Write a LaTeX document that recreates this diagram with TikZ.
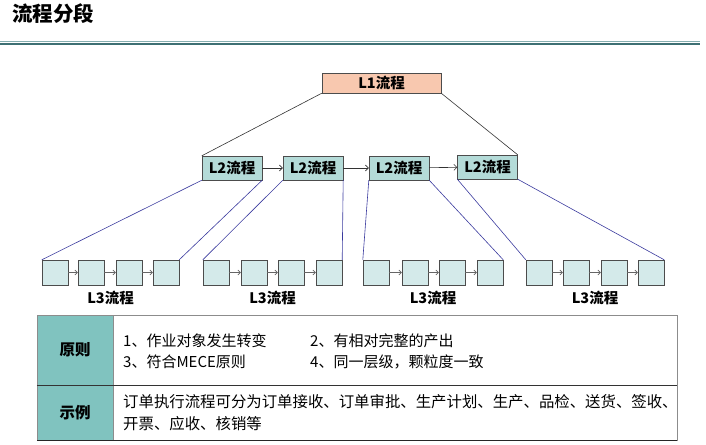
\documentclass[tikz,border=0pt]{standalone}
\usepackage{fontspec}
\setmainfont{Noto Sans CJK SC}
\usetikzlibrary{arrows.meta}
\definecolor{salmon}{HTML}{F8C8AF}
\definecolor{ltwo}{HTML}{B4DBD8}
\definecolor{lthree}{HTML}{D4EAEA}
\definecolor{tealhead}{HTML}{80C3BF}
\definecolor{tline}{HTML}{3E7074}
\definecolor{tlinelt}{HTML}{86AEB0}
\definecolor{bline}{HTML}{3A3A9E}
\tikzset{
  lonebox/.style={draw=black!70, fill=salmon, minimum width=119pt, minimum height=20pt, inner sep=0pt, font=\fontsize{14.5}{16}\selectfont\bfseries},
  ltwobox/.style={draw=black!70, fill=ltwo, minimum width=60pt, minimum height=24pt, inner sep=0pt, font=\fontsize{14.5}{16}\selectfont\bfseries},
  lthreebox/.style={draw=black!70, fill=lthree, minimum width=26pt, minimum height=25pt, inner sep=0pt},
  lthreelabel/.style={inner sep=0pt, font=\fontsize{14.5}{16}\selectfont\bfseries},
  flowarrow/.style={-{Straight Barb[length=3pt,width=6pt]}, black!80, line width=0.6pt},
  smallarrow/.style={-{Straight Barb[length=2.5pt,width=5pt]}, black!60, line width=0.6pt},
  bluelink/.style={bline, line width=0.6pt},
  blacklink/.style={black!80, line width=0.6pt},
  headcell/.style={draw=black!45, fill=tealhead, inner sep=0pt, font=\fontsize{15.5}{17}\selectfont\bfseries},
  bodycell/.style={draw=black!45, fill=white, inner sep=0pt},
  bodytext/.style={anchor=west, inner sep=0pt, font=\fontsize{15}{17}\selectfont},
}
\begin{document}
\begin{tikzpicture}[x=1pt,y=-1pt]
\useasboundingbox (0,0) rectangle (706,444);
% title
\node[anchor=west, inner sep=0pt, font=\fontsize{20.5}{22}\selectfont\bfseries] (title) at (12,14) {流程分段};
\draw[tlinelt, line width=1pt] (0,41.5) -- (700,41.5);
\draw[tline, line width=2.5pt] (0,44) -- (700,44);
% L1
\node[lonebox] (l1) at (381.5,83) {L1流程};
% L2
\node[ltwobox] (a) at (232,168) {L2流程};
\node[ltwobox] (b) at (313,168) {L2流程};
\node[ltwobox] (c) at (399,168) {L2流程};
\node[ltwobox] (d) at (487.5,167) {L2流程};
\draw[flowarrow] (a) -- (b);
\draw[flowarrow] (b) -- (c);
\draw[flowarrow] (c) -- (d);
\draw[blacklink] (l1.south west) -- (a.north west);
\draw[blacklink] (l1.south east) -- (d.north east);
% L3
\foreach \g/\xa/\xb/\xc/\xd in {1/55/91/129/166, 2/216/254/291/329, 3/376/415/452/490, 4/539/576/614/651}{
  \node[lthreebox] (g\g1) at (\xa,272.5) {};
  \node[lthreebox] (g\g2) at (\xb,272.5) {};
  \node[lthreebox] (g\g3) at (\xc,272.5) {};
  \node[lthreebox] (g\g4) at (\xd,272.5) {};
  \draw[smallarrow] (g\g1) -- (g\g2);
  \draw[smallarrow] (g\g2) -- (g\g3);
  \draw[smallarrow] (g\g3) -- (g\g4);
}
\node[lthreelabel] (t1) at (110.5,298) {L3流程};
\node[lthreelabel] (t2) at (272.5,298) {L3流程};
\node[lthreelabel] (t3) at (433,298) {L3流程};
\node[lthreelabel] (t4) at (595,298) {L3流程};
\draw[bluelink] (a.south west) -- (g11.north west);
\draw[bluelink] (a.south east) -- (g14.north east);
\draw[bluelink] (b.south west) -- (g21.north west);
\draw[bluelink] (b.south east) -- (g24.north east);
\draw[bluelink] (c.south west) -- (g31.north west);
\draw[bluelink] (c.south east) -- (g34.north east);
\draw[bluelink] (d.south west) -- (g41.north west);
\draw[bluelink] (d.south east) -- (g44.north east);
% table
\node[bodycell, minimum width=564pt, minimum height=70pt] (r1) at (395,350) {};
\node[bodycell, minimum width=564pt, minimum height=55pt] (r2) at (395,412.5) {};
\node[headcell, minimum width=76pt, minimum height=70pt] (h1) at (75,350) {原则};
\node[headcell, minimum width=76pt, minimum height=55pt] (h2) at (75,412.5) {示例};
\draw[black!80, line width=0.8pt] (h1.south west) -- (r1.south east);
\draw[black!85, line width=1pt] (h2.south west) -- (r2.south east);
\node[bodytext] (p1) at (123,341) {1、作业对象发生转变};
\node[bodytext] (p2) at (310,341) {2、有相对完整的产出};
\node[bodytext] (p3) at (123,362) {3、符合MECE原则};
\node[bodytext] (p4) at (310,362) {4、同一层级，颗粒度一致};
\node[bodytext, font=\fontsize{15.4}{17}\selectfont] (e1) at (123,402) {订单执行流程可分为订单接收、订单审批、生产计划、生产、品检、送货、签收、};
\node[bodytext, font=\fontsize{15.4}{17}\selectfont] (e2) at (123,424) {开票、应收、核销等};
\end{tikzpicture}
\end{document}
